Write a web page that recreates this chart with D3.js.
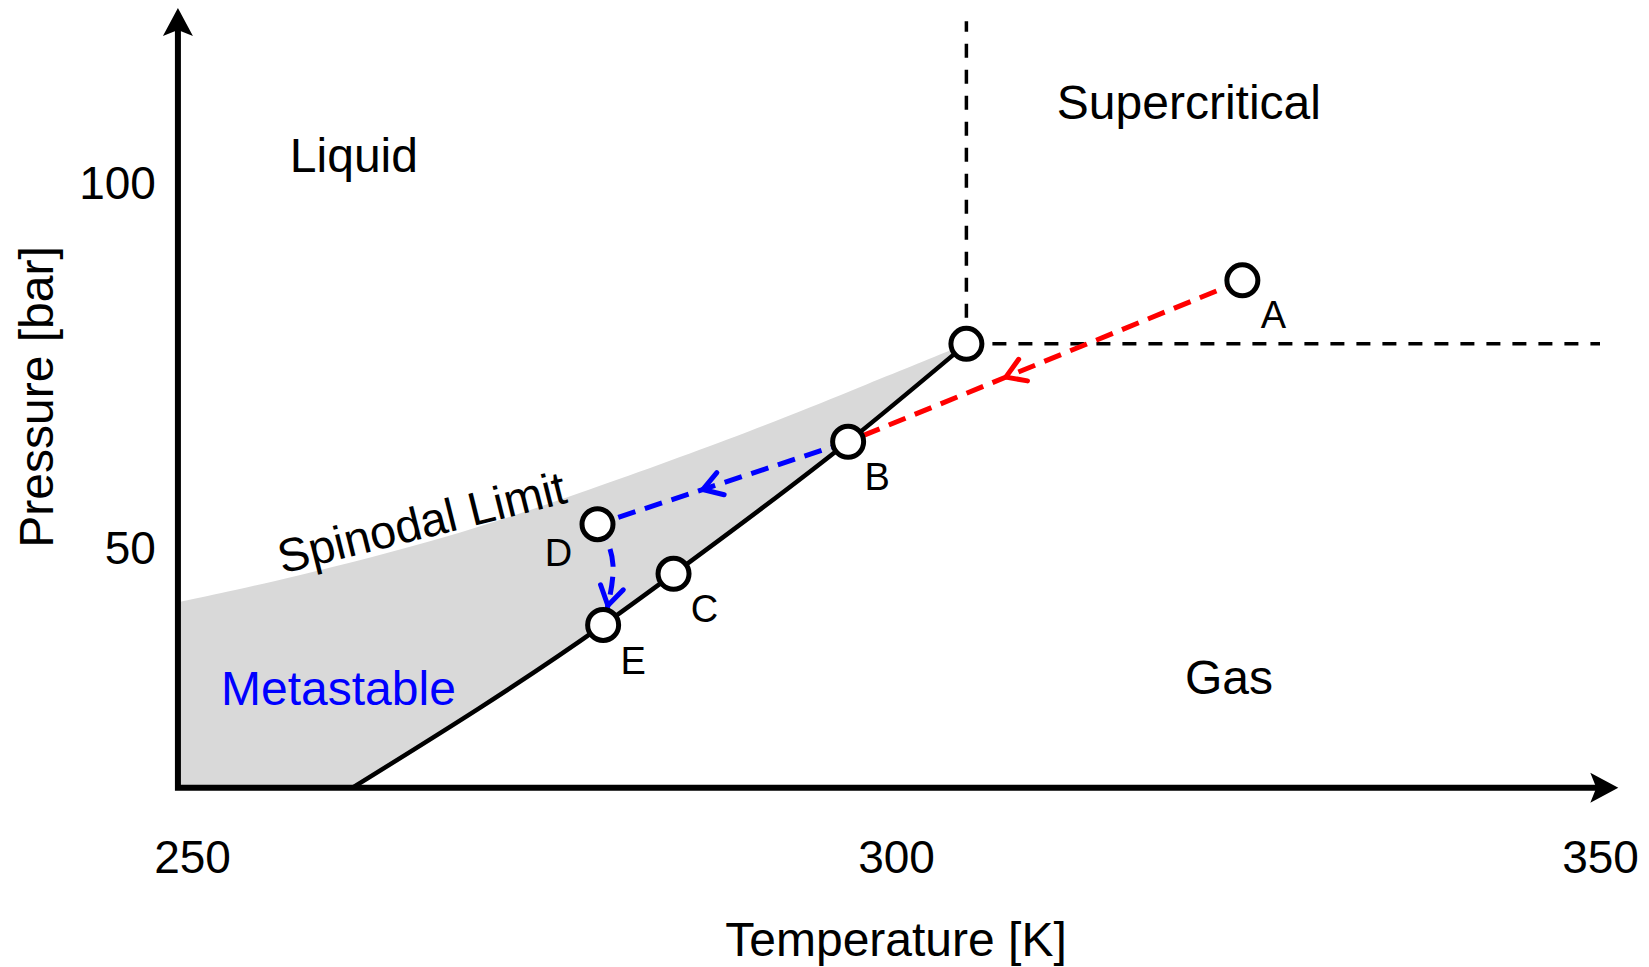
<!DOCTYPE html>
<html>
<head>
<meta charset="utf-8">
<script src="https://cdn.jsdelivr.net/npm/d3@7"></script>
<style>
  body { margin: 0; background: #fff; }
  svg { display: block; font-family: "Liberation Sans", Arial, Helvetica, sans-serif; }
</style>
</head>
<body>
<div id="chart"></div>
<script>
// axis ticks and extents
const tempTicks = [250, 300, 350];
const pressTicks = [50, 100];
const tempExtent = [249, 351.3];
const pressExtent = [17.3, 124.1];

// coexistence (saturation) curve, T [K] / P [bar], from the axis up to the critical point
const coexT = [261.4, 279.2, 284.2, 296.6, 305.0];
const coexP = [17.3, 39.6, 46.6, 64.7, 78.1];

// spinodal limit
const spinT = [249.0, 257.0, 268.3, 276.8, 289.6, 296.7, 305.0];
const spinP = [42.7, 46.0, 51.6, 57.1, 66.0, 71.6, 78.1];

// critical point
const critT = 305.0;
const critP = 78.1;

// labelled states
const stateNames = ["A", "B", "C", "D", "E"];
const stateT = [324.6, 296.6, 284.2, 278.8, 279.2];
const stateP = [86.8, 64.7, 46.6, 53.4, 39.6];

// bend of the D -> E path
const quenchMidT = 279.9;
const quenchMidP = 47.8;

const W = 1649, H = 967;

const svg = d3.select("#chart")
    .append("svg")
    .attr("width", W)
    .attr("height", H);

const x = d3.scaleLinear().domain([250, 350]).range([192, 1600]);
const y = d3.scaleLinear().domain([50, 100]).range([549, 184]);

const states = {};
stateNames.forEach((n, i) => { states[n] = [stateT[i], stateP[i]]; });

const line = d3.line().x(d => x(d[0])).y(d => y(d[1]));

// metastable region: spinodal on top, coexistence curve below, axis at the bottom
const spin = spinT.map((t, i) => [t, spinP[i]]);
const coex = coexT.map((t, i) => [t, coexP[i]]);
const spinPath = d3.line().x(d => x(d[0])).y(d => y(d[1])).curve(d3.curveBasis);
const coexPath = d3.line().x(d => x(d[0])).y(d => y(d[1])).curve(d3.curveMonotoneX);

const area = spinPath(spin) + "L" + coexPath(coex.slice().reverse()).slice(1)
    + `L${x(tempExtent[0])},${y(pressExtent[0])}Z`;

svg.append("path")
    .attr("d", area)
    .attr("fill", "#d9d9d9");

// coexistence line
svg.append("path")
    .attr("d", coexPath(coex))
    .attr("fill", "none")
    .attr("stroke", "#000")
    .attr("stroke-width", 4.5);

// critical isotherm / isobar
svg.append("path")
    .attr("d", line([[critT, critP], [critT, 122.3]]))
    .attr("stroke", "#000")
    .attr("stroke-width", 3.5)
    .attr("stroke-dasharray", "14,12");

svg.append("path")
    .attr("d", line([[critT, critP], [350, critP]]))
    .attr("stroke", "#000")
    .attr("stroke-width", 3.5)
    .attr("stroke-dasharray", "14,12");

function chevron(g, px, py, dx, dy, color) {
    const len = 22, ang = 32 * Math.PI / 180;
    const arm = s => {
        const c = Math.cos(s * ang), sn = Math.sin(s * ang);
        const rx = -(dx * c - dy * sn), ry = -(dx * sn + dy * c);
        return [px + rx * len, py + ry * len];
    };
    const a = arm(1), b = arm(-1);
    g.append("path")
        .attr("d", `M${a[0]},${a[1]}L${px},${py}L${b[0]},${b[1]}`)
        .attr("fill", "none")
        .attr("stroke", color)
        .attr("stroke-width", 5)
        .attr("stroke-linecap", "round")
        .attr("stroke-linejoin", "round");
}

function dashedArrow(pts, color, at, curve) {
    const g = svg.append("g");
    const gen = d3.line().x(d => x(d[0])).y(d => y(d[1]));
    if (curve) gen.curve(curve);
    const p = g.append("path")
        .attr("d", gen(pts))
        .attr("fill", "none")
        .attr("stroke", color)
        .attr("stroke-width", 5)
        .attr("stroke-dasharray", "18,10");
    const node = p.node();
    const L = node.getTotalLength();
    const l = at < 0 ? L + at : L * at;
    const p1 = node.getPointAtLength(l);
    const p0 = node.getPointAtLength(l - 4);
    const n = Math.hypot(p1.x - p0.x, p1.y - p0.y);
    chevron(g, p1.x, p1.y, (p1.x - p0.x) / n, (p1.y - p0.y) / n, color);
}

dashedArrow([states.A, states.B], "#ff0000", 0.6);
dashedArrow([states.B, states.D], "#0000ff", 0.58);
dashedArrow([states.D, [quenchMidT, quenchMidP], states.E], "#0000ff", -20, d3.curveNatural);

// state points
const pts = [[critT, critP]].concat(stateNames.map(n => states[n]));
svg.append("g")
    .selectAll("circle")
    .data(pts)
    .join("circle")
    .attr("cx", d => x(d[0]))
    .attr("cy", d => y(d[1]))
    .attr("r", 15.5)
    .attr("fill", "#fff")
    .attr("stroke", "#000")
    .attr("stroke-width", 5);

const labelOffset = { A: [31, 48], B: [29, 48], C: [31, 48], D: [-39, 42], E: [30, 49] };
svg.append("g")
    .selectAll("text")
    .data(stateNames)
    .join("text")
    .attr("x", n => x(states[n][0]) + labelOffset[n][0])
    .attr("y", n => y(states[n][1]) + labelOffset[n][1])
    .attr("text-anchor", "middle")
    .attr("font-size", 38)
    .text(n => n);

// region labels
const regions = [
    { text: "Liquid", t: 261.5, p: 101.6, color: "#000" },
    { text: "Supercritical", t: 320.8, p: 108.9, color: "#000" },
    { text: "Gas", t: 323.65, p: 30.1, color: "#000" },
    { text: "Metastable", t: 260.4, p: 28.6, color: "#0000ff" }
];
svg.append("g")
    .selectAll("text")
    .data(regions)
    .join("text")
    .attr("x", d => x(d.t))
    .attr("y", d => y(d.p))
    .attr("text-anchor", "middle")
    .attr("font-size", 48)
    .attr("fill", d => d.color)
    .text(d => d.text);

svg.append("text")
    .attr("transform", `translate(${x(266.3)},${y(53.7)}) rotate(-14)`)
    .attr("text-anchor", "middle")
    .attr("dy", "0.35em")
    .attr("font-size", 47)
    .text("Spinodal Limit");

// axes
const x0 = x(tempExtent[0]), x1 = x(tempExtent[1]);
const y0 = y(pressExtent[0]), y1 = y(pressExtent[1]);

svg.append("path")
    .attr("d", `M${x0},${y0}H${x1 - 24}M${x0},${y0}V${y1 + 22}`)
    .attr("stroke", "#000")
    .attr("stroke-width", 6)
    .attr("stroke-linecap", "square");

svg.append("path")
    .attr("d", `M${x1},${y0}L${x1 - 28},${y0 - 15}L${x1 - 22},${y0}L${x1 - 28},${y0 + 15}Z`)
    .attr("fill", "#000");
svg.append("path")
    .attr("d", `M${x0},${y1}L${x0 - 15},${y1 + 28}L${x0},${y1 + 22}L${x0 + 15},${y1 + 28}Z`)
    .attr("fill", "#000");

svg.append("g")
    .attr("transform", `translate(0,${y0})`)
    .call(d3.axisBottom(x).tickValues(tempTicks).tickSize(0).tickPadding(53).tickFormat(d3.format("d")))
    .call(g => g.select(".domain").remove())
    .attr("font-size", 46)
    .attr("font-family", null);

svg.append("g")
    .attr("transform", `translate(${x0},0)`)
    .call(d3.axisLeft(y).tickValues(pressTicks).tickSize(0).tickPadding(22).tickFormat(d3.format("d")))
    .call(g => g.select(".domain").remove())
    .attr("font-size", 46)
    .attr("font-family", null);

svg.append("text")
    .attr("x", x(300))
    .attr("y", 956)
    .attr("text-anchor", "middle")
    .attr("font-size", 48)
    .text("Temperature [K]");

svg.append("text")
    .attr("transform", `translate(53,397) rotate(-90)`)
    .attr("text-anchor", "middle")
    .attr("font-size", 48)
    .text("Pressure [bar]");
</script>
</body>
</html>
